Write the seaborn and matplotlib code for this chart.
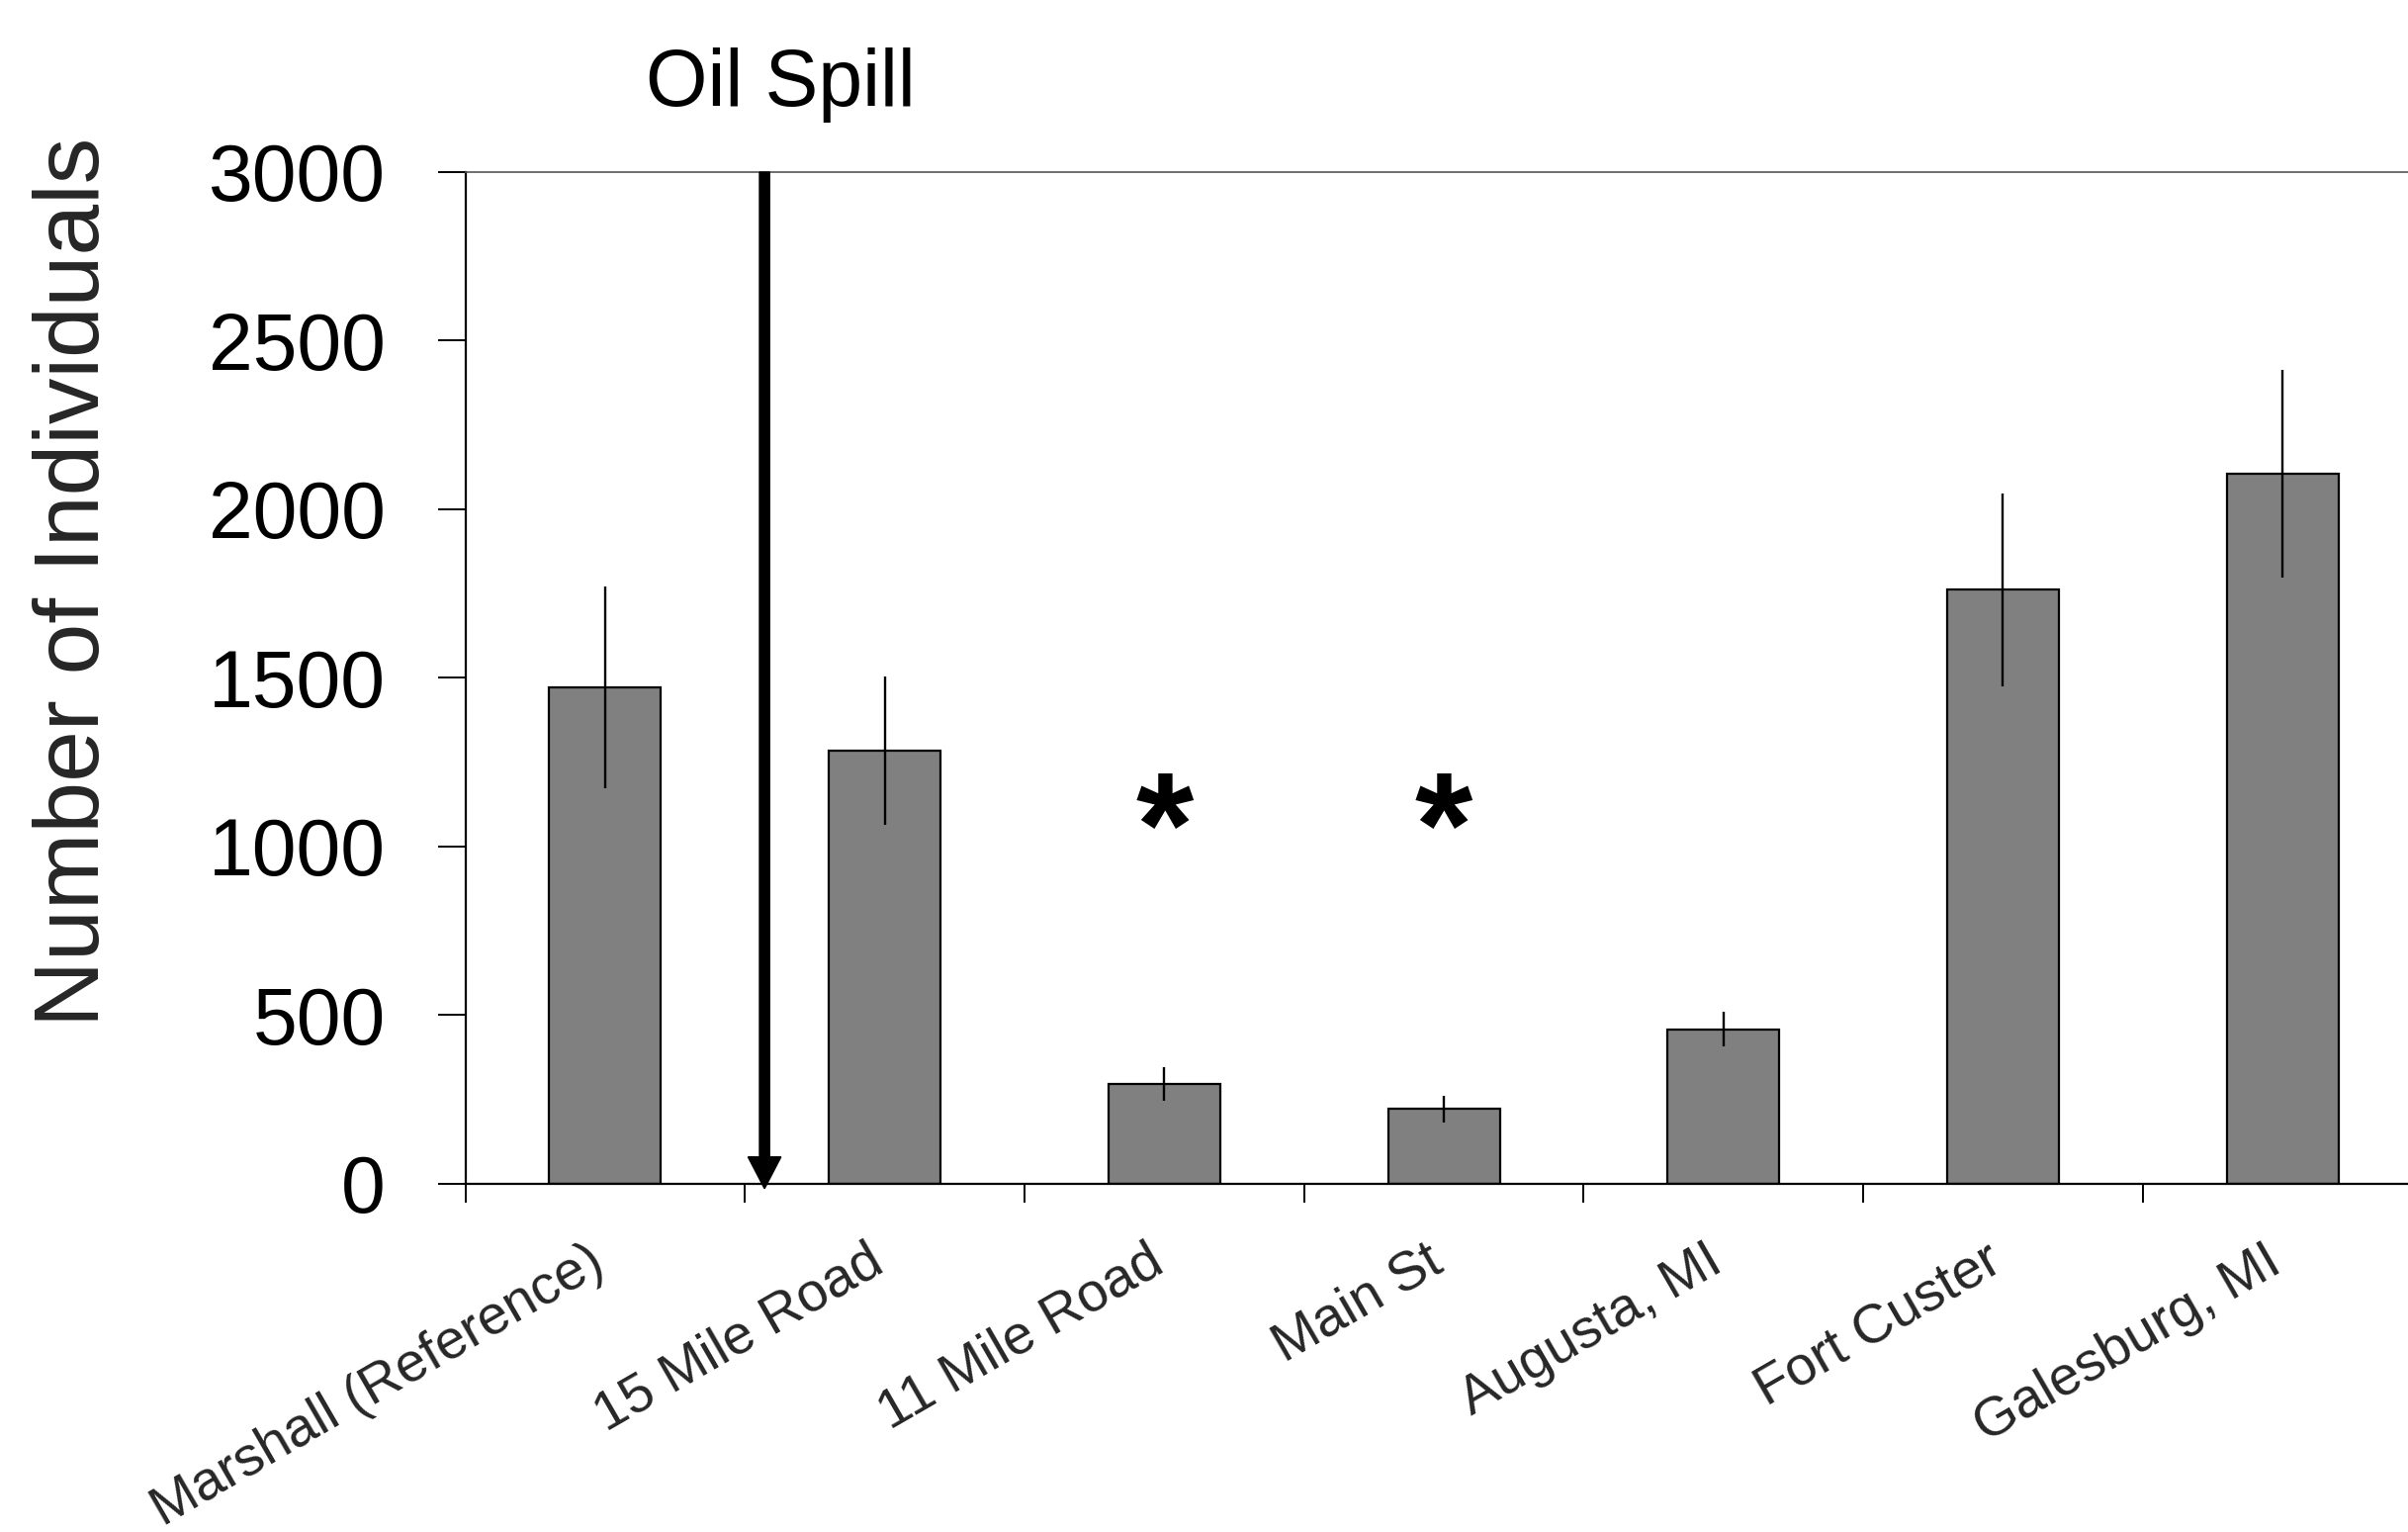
import matplotlib
matplotlib.use("Agg")
import matplotlib.pyplot as plt
import matplotlib.transforms as mtransforms
import seaborn as sns
import pandas as pd
import numpy as np

# ---- data ----
sites = ["Marshall (Reference)", "15 Mile Road", "11 Mile Road", "Main St",
         "Augusta, MI", "Fort Custer", "Galesburg, MI"]
counts = [1472, 1283, 295, 221, 458, 1761, 2105]
errors = [300, 220, 49, 40, 52, 287, 307]
significant = ["11 Mile Road", "Main St"]
y_ticks = [0, 500, 1000, 1500, 2000, 2500, 3000]
spill_label = "Oil Spill"
spill_pos = 0.57          # between Marshall and 15 Mile Road (category units)
star_level = 1025

sns.set_theme(style="white")
plt.rcParams["font.family"] = ["Liberation Sans", "DejaVu Sans"]

W, H = 2435, 1549
fig = plt.figure(figsize=(W / 100, H / 100), dpi=100)
fig.patch.set_facecolor("white")

left = 470.6 / W
right_px = 470.6 + 7 * 282.7
bottom = 1 - 1196.7 / H
top = 1 - 174 / H
ax = fig.add_axes([left, bottom, right_px / W - left, top - bottom])

df = pd.DataFrame({"site": sites, "count": counts})
sns.barplot(data=df, x="site", y="count", order=sites, color="#808080",
            saturation=1, edgecolor="black", linewidth=1.6, width=0.4,
            errorbar=None, ax=ax)
xpos = np.arange(len(sites))
ax.errorbar(xpos, counts, yerr=errors, fmt="none", ecolor="black",
            elinewidth=1.7, capsize=0, zorder=5)

# significance stars
for s in significant:
    i = sites.index(s)
    ax.text(i, star_level, "*", ha="center", va="center", fontsize=108,
            fontweight="bold", color="black")

# oil spill arrow
ax.arrow(spill_pos, 3000, 0, -3015, width=0.036, head_width=0.118,
         head_length=94, length_includes_head=True, color="black",
         zorder=6, clip_on=False)
fig.text(789 / W, 1 - 107 / H, spill_label, ha="center", va="baseline",
         fontsize=58, color="black")

# axes styling
ax.set_xlim(-0.5, 6.5)
ax.set_ylim(0, 3000)
ax.set_yticks(y_ticks)
ax.set_yticklabels([str(v) for v in y_ticks], fontsize=58)
ax.tick_params(axis="y", direction="out", length=20, width=1.4, pad=38,
               colors="black", left=True)

ax.set_xticks(np.arange(-0.5, 7.0, 1.0))
ax.set_xticklabels([])
ax.tick_params(axis="x", which="major", direction="out", length=14,
               width=1.4, colors="black", bottom=True)
ax.set_xticks(xpos, minor=True)
ax.set_xticklabels(sites, minor=True, rotation=30, ha="right",
                   rotation_mode="anchor", fontsize=40)
ax.tick_params(axis="x", which="minor", length=0, pad=30, bottom=True)
shift = mtransforms.ScaledTranslation(-18 / 100, -11 / 100, fig.dpi_scale_trans)
for lbl in ax.get_xticklabels(minor=True):
    lbl.set_transform(lbl.get_transform() + shift)
ax.set_xlabel("")

ax.set_ylabel("Number of Individuals", fontsize=67, va="center")
ax.yaxis.set_label_coords(76 / W, 1 - 588 / H, transform=fig.transFigure)

for side in ["left", "bottom"]:
    ax.spines[side].set_color("black")
    ax.spines[side].set_linewidth(1.6)
ax.spines["top"].set_color("#555555")
ax.spines["top"].set_linewidth(1.2)
ax.spines["right"].set_visible(False)
ax.grid(False)

fig.savefig("out.png", dpi=100, facecolor="white")
